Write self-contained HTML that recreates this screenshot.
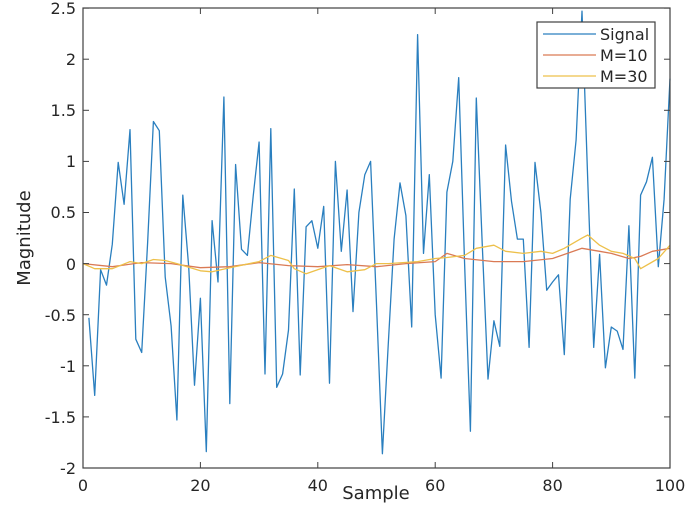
<!DOCTYPE html>
<html><head><style>body{margin:0;background:#fff}svg{display:block}</style></head><body>
<svg width="696" height="525" viewBox="0 0 696 525" xmlns="http://www.w3.org/2000/svg" font-family="'DejaVu Sans','Liberation Sans',sans-serif">
<rect width="696" height="525" fill="#fff"/>
<g id="plot"></g>
<rect x="83" y="8" width="587" height="460" fill="none" stroke="#404040" stroke-width="1.2"/>
<g font-size="16" fill="#262626" text-anchor="middle">
<text x="83" y="491">0</text><text x="200.4" y="491">20</text><text x="317.8" y="491">40</text><text x="435.2" y="491">60</text><text x="552.6" y="491">80</text><text x="670" y="491">100</text>
</g>
<g font-size="16" fill="#262626" text-anchor="end">
<text x="76" y="14">2.5</text><text x="76" y="65">2</text><text x="76" y="116">1.5</text><text x="76" y="167">1</text><text x="76" y="218">0.5</text><text x="76" y="270">0</text><text x="76" y="321">-0.5</text><text x="76" y="372">-1</text><text x="76" y="423">-1.5</text><text x="76" y="474">-2</text>
</g>
<text x="376" y="492" font-size="18" fill="#262626" text-anchor="middle" dy="0.4em">Sample</text>
<text transform="translate(30,238) rotate(-90)" font-size="18" fill="#262626" text-anchor="middle">Magnitude</text>
<rect x="537" y="22" width="118" height="66" fill="#fff" stroke="#404040" stroke-width="1.2"/>
<line x1="543" y1="34" x2="596" y2="34" stroke="#2A7FBF" stroke-width="1.3"/>
<line x1="543" y1="55" x2="596" y2="55" stroke="#DA7A55" stroke-width="1.3"/>
<line x1="543" y1="76" x2="596" y2="76" stroke="#EDC04A" stroke-width="1.3"/>
<g font-size="16" fill="#262626"><text x="600" y="40">Signal</text><text x="600" y="61">M=10</text><text x="600" y="82">M=30</text></g>
</svg>
<script>
const X=i=>83+5.87*i, Y=v=>263.6-102.2*v;
const s=[-0.53,-1.29,-0.06,-0.21,0.19,0.99,0.58,1.31,-0.74,-0.87,0.2,1.39,1.3,-0.13,-0.61,-1.53,0.67,-0.03,-1.19,-0.34,-1.84,0.42,-0.18,1.63,-1.37,0.97,0.14,0.08,0.66,1.19,-1.08,1.32,-1.21,-1.08,-0.65,0.73,-1.09,0.36,0.42,0.15,0.56,-1.17,1.0,0.12,0.72,-0.47,0.5,0.87,1.0,-0.4,-1.86,-0.8,0.24,0.79,0.47,-0.62,2.24,0.1,0.87,-0.5,-1.12,0.7,1.0,1.82,0,-1.64,1.62,0.2,-1.13,-0.56,-0.81,1.16,0.61,0.24,0.24,-0.82,0.99,0.5,-0.26,-0.18,-0.11,-0.89,0.63,1.21,2.47,0.8,-0.82,0.09,-1.02,-0.62,-0.66,-0.84,0.37,-1.12,0.67,0.8,1.04,-0.03,0.63,1.81];
const m10=[[0,0],[5,-0.03],[10,0.01],[15,0.0],[20,-0.04],[25,-0.03],[30,0.01],[35,-0.02],[40,-0.03],[45,-0.01],[50,-0.03],[55,0.0],[60,0.02],[62,0.1],[65,0.05],[70,0.02],[75,0.02],[80,0.05],[85,0.15],[88,0.12],[90,0.1],[93,0.05],[95,0.07],[97,0.12],[100,0.15]];
const m30=[[0,0],[2,-0.05],[5,-0.05],[8,0.02],[10,0],[12,0.04],[14,0.03],[16,0],[20,-0.07],[22,-0.08],[25,-0.04],[30,0.02],[32,0.08],[35,0.03],[36,-0.05],[38,-0.1],[42,-0.02],[45,-0.08],[48,-0.06],[50,0],[52,0],[57,0.02],[60,0.05],[62,0.06],[65,0.08],[67,0.15],[70,0.18],[72,0.12],[75,0.1],[78,0.12],[80,0.1],[82,0.15],[85,0.25],[86,0.28],[88,0.18],[90,0.12],[92,0.1],[94,0.05],[95,-0.05],[98,0.05],[100,0.18]];
const pl=(pts,c)=>`<polyline fill="none" stroke="${c}" stroke-width="1.3" stroke-linejoin="round" points="${pts.map(p=>X(p[0]).toFixed(1)+','+Y(p[1]).toFixed(1)).join(' ')}"/>`;
let h=pl(s.map((v,i)=>[i+1,v]),'#2A7FBF')+pl(m10,'#DA7A55')+pl(m30,'#EDC04A');
for(let i=0;i<=100;i+=20){h+=`<line x1="${X(i)}" y1="8" x2="${X(i)}" y2="14" stroke="#404040"/><line x1="${X(i)}" y1="468" x2="${X(i)}" y2="462" stroke="#404040"/>`;}
for(let v=-2;v<=2.5;v+=0.5){h+=`<line x1="83" y1="${Y(v)}" x2="89" y2="${Y(v)}" stroke="#404040"/><line x1="670" y1="${Y(v)}" x2="664" y2="${Y(v)}" stroke="#404040"/>`;}
document.getElementById('plot').innerHTML=h;
</script>
</body></html>
